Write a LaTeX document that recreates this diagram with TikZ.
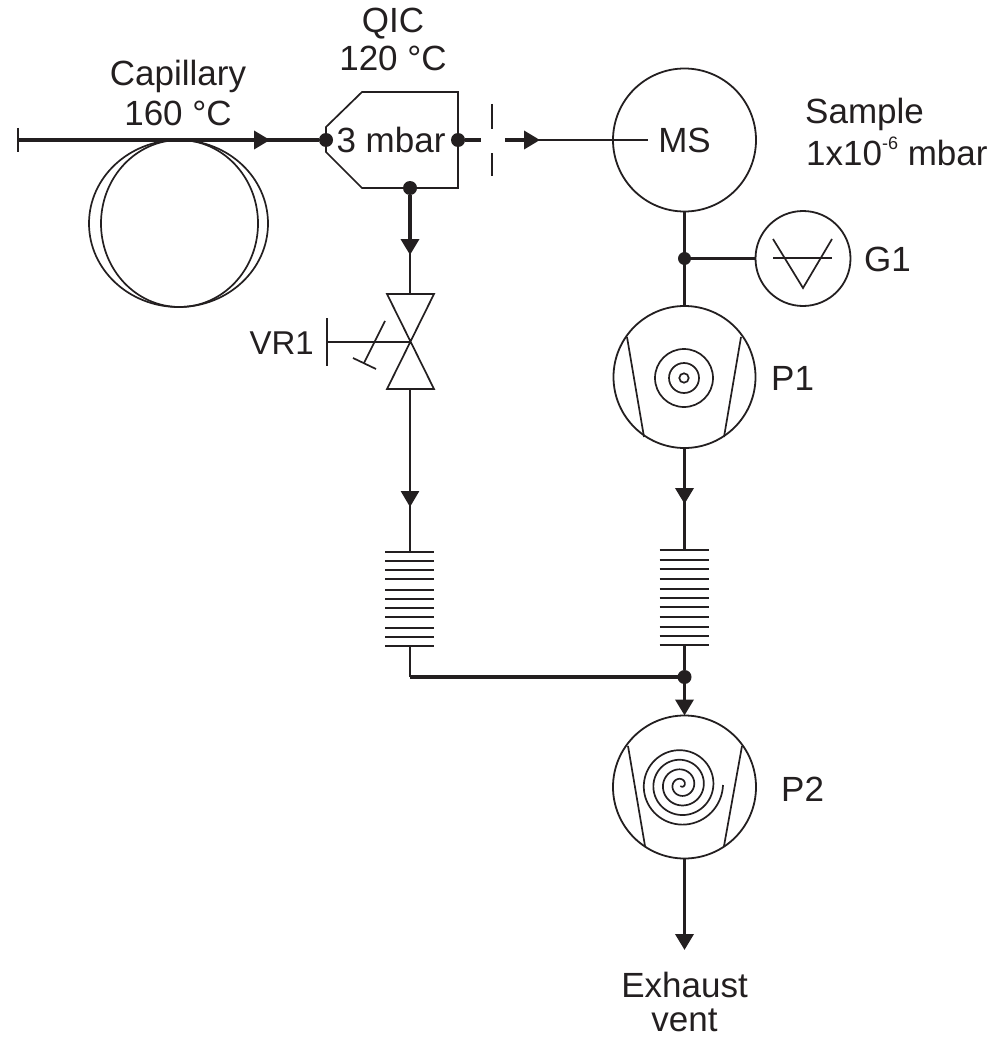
\documentclass[tikz,border=0pt]{standalone}
\usepackage{fontspec}
\setmainfont{Liberation Sans}
\usepackage{xcolor}
\usetikzlibrary{arrows.meta}
\definecolor{ink}{HTML}{231F20}
\tikzset{
	thinline/.style={draw=ink,line width=1.7pt},
	midline/.style={draw=ink,line width=2.4pt},
	fatline/.style={draw=ink,line width=3.6pt},
	flowtip/.style={-{Triangle[length=16pt,width=18pt,fill=ink]}},
	fromtip/.style={shorten <=-10pt},
	ring/.style={circle,draw=ink,line width=1.8pt,inner sep=0pt,outer sep=0pt,minimum size=#1},
	joint/.style={circle,fill=ink,inner sep=0pt,outer sep=0pt,minimum size=14pt},
	lbl/.style={text=ink,inner sep=0pt,anchor=base,font=\fontsize{35}{40}\selectfont},
}
\begin{document}
\begin{tikzpicture}[x=1pt,y=-1pt]
	\useasboundingbox (0,0) rectangle (990,1038);

	\coordinate (capStart) at (18,140);
	\coordinate (capTip) at (270,140);
	\coordinate (slitOut) at (481,140);
	\coordinate (slitIn) at (505,140);
	\coordinate (msTip) at (540,140);
	\coordinate (msEnd) at (648,140);
	\coordinate (vrTip) at (410,255);
	\coordinate (vrTop) at (410,294);
	\coordinate (vrMid) at (410,342);
	\coordinate (vrBot) at (410,389);
	\coordinate (backTip) at (410,507);
	\coordinate (backTop) at (410,552);
	\coordinate (backBot) at (410,646);
	\coordinate (backCorner) at (410,677);
	\coordinate (roughTip) at (684.5,504);
	\coordinate (roughTop) at (684.5,550);
	\coordinate (roughBot) at (684.5,645);
	\coordinate (ventTip) at (684.5,950);

	\node[ring=143pt,lbl,anchor=center] (MS) at (684.5,140) {MS};
	\node[ring=95pt] (G1) at (803,258.5) {};
	\node[ring=142pt] (P1) at (684.5,377) {};
	\node[ring=143pt] (P2) at (684.5,787) {};
	\node[joint] (qicIn) at (326,140) {};
	\node[joint] (qicOut) at (458,140) {};
	\node[joint] (qicDown) at (410,188) {};
	\node[joint,minimum size=13pt] (gaugeJoint) at (684.5,258.5) {};
	\node[joint] (ventJoint) at (684.5,677) {};

	\draw[thinline] (178.5,223.5) ellipse [x radius=89.5,y radius=83.5];
	\draw[thinline] (179.5,223.5) ellipse [x radius=78.5,y radius=83.5];
	\draw[midline] (18,128) -- (18,152);
	\draw[fatline] (capStart) -- (qicIn);
	\draw[fatline,flowtip] (capStart) -- (capTip);

	\draw[thinline] (326,127) -- (362,92) -- (458,92) -- (458,188) -- (362,188) -- (326,152) -- cycle;
	\draw[fatline] (qicOut) -- (slitOut);
	\draw[midline] (492,104) -- (492,129);
	\draw[midline] (492,153) -- (492,176);
	\draw[fatline,flowtip] (slitIn) -- (msTip);
	\draw[thinline,fromtip] (msTip) -- (msEnd);

	\draw[fatline,flowtip] (qicDown) -- (vrTip);
	\draw[midline,fromtip] (vrTip) -- (vrTop);
	\draw[thinline] (387,294) -- (434,294) -- (387,389) -- (434,389) -- cycle;
	\draw[thinline] (327,318) -- (327,366);
	\draw[thinline] (327,342) -- (vrMid);
	\draw[thinline] (385,321) -- (364,363);
	\draw[thinline] (353,358) -- (376,369);
	\draw[fatline,line width=2.8pt,flowtip] (vrBot) -- (backTip);
	\draw[thinline,fromtip] (backTip) -- (backTop);
	\foreach \y in {552,561,570,579,590,599,608,617,628,637,646}
		\draw[midline] (385,\y) -- (434,\y);
	\draw[midline] (backBot) -- (backCorner);
	\draw[fatline] (backCorner) -- (ventJoint);

	\draw[midline] (MS.south) -- (P1.north);
	\draw[midline] (gaugeJoint) -- (G1.west);
	\draw[thinline] (773,239) -- (803,288) -- (832,239);
	\draw[thinline] (773,258) -- (832,258);

	\draw[thinline] (627,337) -- (644,437);
	\draw[thinline] (741,337) -- (724,437);
	\draw[thinline] (684,378) circle [radius=29];
	\draw[thinline] (684,378) circle [radius=15];
	\draw[thinline] (684,378) circle [radius=4.7];

	\draw[fatline,flowtip] (P1.south) -- (roughTip);
	\draw[midline,fromtip] (roughTip) -- (roughTop);
	\foreach \y in {550,560,569,579,589,598,607,617,627,636,645}
		\draw[midline] (659.5,\y) -- (708.5,\y);
	\draw[fatline] (roughBot) -- (ventJoint);
	\draw[fatline,flowtip] (ventJoint) -- (P2.north);

	\draw[thinline] (628,746) -- (645,846);
	\draw[thinline] (742,746) -- (724,846);
	\draw[thinline,shift={(681,785)}] plot[domain=0:1550,samples=300,smooth] ({(42-\x/360*9.6)*cos(\x)},{(42-\x/360*9.6)*sin(\x)});
	\draw[fatline,flowtip] (P2.south) -- (ventTip);

	\node[lbl] (capName) at (178,86) {Capillary};
	\node[lbl] (capTemp) at (178,125) {160 °C};
	\node[lbl] (qicName) at (393,33) {QIC};
	\node[lbl] (qicTemp) at (393,71) {120 °C};
	\node[lbl] (qicPress) at (391,153) {3 mbar};
	\node[lbl,anchor=base west] (msName) at (805,124) {Sample};
	\node[lbl,anchor=base west] (msPress) at (806,165) {1x10\raisebox{0.45em}{\fontsize{18}{18}\selectfont -6} mbar};
	\node[lbl,anchor=base west] (g1Name) at (864,271) {G1};
	\node[lbl,anchor=base west] (p1Name) at (771,390) {P1};
	\node[lbl,anchor=base west] (p2Name) at (781,801) {P2};
	\node[lbl,anchor=base east,font=\fontsize{33}{40}\selectfont] (vrName) at (314,354) {VR1};
	\node[lbl] (ventName) at (684.5,997) {Exhaust};
	\node[lbl] (ventSub) at (684.5,1031) {vent};
\end{tikzpicture}
\end{document}
